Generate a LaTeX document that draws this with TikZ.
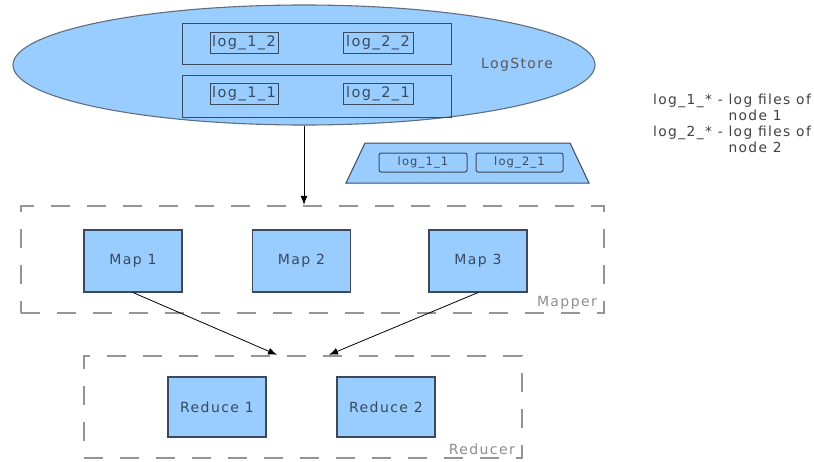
\documentclass[tikz,border=0pt]{standalone}
\usepackage{fontspec}
\setmainfont[LetterSpace=10]{DejaVu Sans}
\usetikzlibrary{shapes.geometric,arrows.meta}
\definecolor{boxblue}{HTML}{99CCFF}
\definecolor{boxline}{HTML}{3A4A5C}
\definecolor{dashgray}{HTML}{959595}
\begin{document}
\begin{tikzpicture}[x=1pt, y=-1pt,
    bluebox/.style = {draw=boxline, fill=boxblue, line width=1.1pt, inner sep=0pt,
                      text=boxline, font=\fontsize{14}{16}\selectfont},
    logbox/.style = {draw=boxline, line width=1pt, inner sep=0pt,
                     text=boxline, font=\fontsize{14.5}{16}\selectfont},
    groupbox/.style = {draw=dashgray, line width=2.4pt, dash pattern=on 19pt off 17pt, inner sep=0pt},
    grouplabel/.style = {text=gray!90, font=\fontsize{14}{16}\selectfont, inner sep=1pt},
    flow/.style = {-{Latex[length=9pt,width=7pt]}, line width=0.8pt}]
  \useasboundingbox (0,0) rectangle (814,461);

    % the log store
    \node [ellipse, draw=boxline!80, fill=boxblue, line width=1.1pt,
           minimum width=582, minimum height=120] (logstore) at (304,65) {};
    \node [text=gray!70!black, font=\fontsize{14}{16}\selectfont] (storelabel) at (517,65) {LogStore};

    \node [logbox, minimum width=269, minimum height=41] (row2) at (316.5,43.5) {};
    \node [logbox, minimum width=269, minimum height=42] (row1) at (316.5,96) {};
    \node [logbox, minimum width=68, minimum height=21] (l12) at (244,42.5) {log\_1\_2};
    \node [logbox, minimum width=70, minimum height=21] (l22) at (378,42.5) {log\_2\_2};
    \node [logbox, minimum width=68, minimum height=21] (l11) at (244,93.5) {log\_1\_1};
    \node [logbox, minimum width=70, minimum height=21] (l21) at (378,93.5) {log\_2\_1};

    % one row taken out
    \draw [draw=boxline, fill=boxblue, line width=1pt] (346,183) -- (365,143) -- (570,143) -- (589,183) -- cycle;
    \node [logbox, rounded corners=2pt, minimum width=88, minimum height=19,
           font=\fontsize{11.5}{14}\selectfont] (rl11) at (423,162.5) {log\_1\_1};
    \node [logbox, rounded corners=2pt, minimum width=87, minimum height=19,
           font=\fontsize{11.5}{14}\selectfont] (rl21) at (519.5,162.5) {log\_2\_1};

    % legend
    \node [anchor=north west, inner sep=0pt, text=black!75,
           font=\fontsize{13.8}{16}\selectfont] (legend) at (653,93)
          {\begin{tabular}{@{}l@{\ }l@{}}
            log\_1\_* - & log files of\\
                        & node 1\\
            log\_2\_* - & log files of\\
                        & node 2
          \end{tabular}};

    % mappers
    \node [groupbox, minimum width=583, minimum height=107] (mapper) at (312.5,259.5) {};
    \node [grouplabel, anchor=south east] (mapperlabel) at (598,311) {Mapper};
    \node [bluebox, minimum width=98, minimum height=62] (map1) at (133,261) {Map 1};
    \node [bluebox, minimum width=98, minimum height=62] (map2) at (301.5,261) {Map 2};
    \node [bluebox, minimum width=98, minimum height=62] (map3) at (478,261) {Map 3};

    % reducers
    \node [groupbox, minimum width=438, minimum height=102] (reducer) at (303,407) {};
    \node [grouplabel, anchor=south east] (reducerlabel) at (516,456) {Reducer};
    \node [bluebox, minimum width=98, minimum height=60] (red1) at (217,407) {Reduce 1};
    \node [bluebox, minimum width=98, minimum height=60] (red2) at (386,407) {Reduce 2};

    \coordinate (in1) at ([xshift=-26pt]reducer.north);
    \coordinate (in2) at ([xshift=26pt]reducer.north);

    \draw [flow] (logstore.south) -- (logstore.south |- mapper.north);
    \draw [flow] (map1.south) -- (in1);
    \draw [flow] (map3.south) -- (in2);

 \end{tikzpicture}
\end{document}
